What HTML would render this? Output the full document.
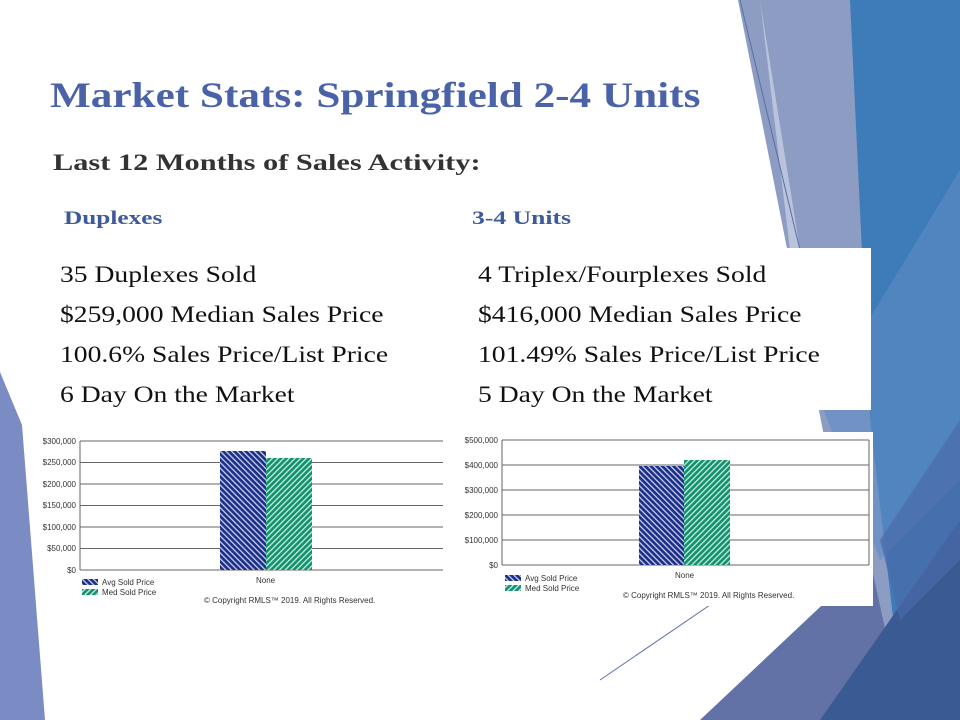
<!DOCTYPE html>
<html><head><meta charset="utf-8"><style>
body{margin:0;width:960px;height:720px;overflow:hidden;background:#fff;position:relative;font-family:"Liberation Serif",serif}
svg{position:absolute;left:0;top:0}
.t{position:absolute;white-space:nowrap;transform-origin:0 0}
</style></head><body>
<svg width="960" height="720">
<defs>
<pattern id="pa" width="4" height="4" patternUnits="userSpaceOnUse" patternTransform="rotate(-45)">
<rect width="4" height="4" fill="#1c2f86"/><rect width="1.3" height="4" fill="#c8d0ee"/></pattern>
<pattern id="pm" width="4" height="4" patternUnits="userSpaceOnUse" patternTransform="rotate(45)">
<rect width="4" height="4" fill="#129170"/><rect width="1.3" height="4" fill="#c8eedd"/></pattern>
</defs>
<polygon points="738,0 960,0 960,720 880,720" fill="#8d9cc2"/>
<polygon points="850,0 960,0 960,720 905,720 870,420" fill="#3d7cb9"/>
<polygon points="760,0 790,250 800,250" fill="#b9c3dc"/>
<polygon points="820,400 960,170 960,480 880,560" fill="#5f8cc4" opacity="0.6"/>
<polygon points="700,720 870,560 905,720" fill="#6272a6"/>
<polygon points="820,720 960,520 960,720" fill="#3a5a93"/>
<polygon points="880,540 960,420 960,560 900,620" fill="#4a6aa8" opacity="0.7"/>
<line x1="740" y1="0" x2="800" y2="250" stroke="#5a6ea8" stroke-width="1"/>
<line x1="600" y1="680" x2="710" y2="605" stroke="#5a6ea8" stroke-width="1"/>
<polygon points="0,372 22,425 45,720 0,720" fill="#7a8cc3"/>
<rect x="470" y="248" width="401" height="162" fill="#fff"/>
<rect x="455" y="432" width="418" height="174" fill="#fff"/>
<g stroke="#666" stroke-width="1">
<line x1="80" y1="441" x2="443" y2="441"/><line x1="80" y1="462.5" x2="443" y2="462.5"/>
<line x1="80" y1="484" x2="443" y2="484"/><line x1="80" y1="505.5" x2="443" y2="505.5"/>
<line x1="80" y1="527" x2="443" y2="527"/><line x1="80" y1="548.5" x2="443" y2="548.5"/>
<line x1="80" y1="570" x2="443" y2="570"/><line x1="80" y1="441" x2="80" y2="570"/>
</g>
<rect x="220" y="451" width="46" height="119" fill="url(#pa)"/>
<rect x="266" y="458" width="46" height="112" fill="url(#pm)"/>
<rect x="82" y="579" width="16" height="6" fill="url(#pa)"/>
<rect x="82" y="589" width="16" height="6" fill="url(#pm)"/>
<g font-family="Liberation Sans" font-size="8" fill="#333" text-anchor="end">
<text x="76" y="444">$300,000</text><text x="76" y="465">$250,000</text><text x="76" y="487">$200,000</text>
<text x="76" y="508">$150,000</text><text x="76" y="530">$100,000</text><text x="76" y="551">$50,000</text><text x="76" y="573">$0</text>
</g>
<g font-family="Liberation Sans" font-size="8" fill="#333">
<text x="102" y="585">Avg Sold Price</text><text x="102" y="595">Med Sold Price</text>
<text x="256" y="583">None</text><text x="204" y="603">© Copyright RMLS™ 2019.  All Rights Reserved.</text>
</g>
<g stroke="#666" stroke-width="1">
<line x1="502" y1="440" x2="869" y2="440"/><line x1="502" y1="465" x2="869" y2="465"/>
<line x1="502" y1="490" x2="869" y2="490"/><line x1="502" y1="515" x2="869" y2="515"/>
<line x1="502" y1="540" x2="869" y2="540"/><line x1="502" y1="565" x2="869" y2="565"/>
<line x1="502" y1="440" x2="502" y2="565"/><line x1="869" y1="440" x2="869" y2="565"/>
</g>
<rect x="639" y="466" width="45" height="99" fill="url(#pa)"/>
<rect x="684" y="460" width="46" height="105" fill="url(#pm)"/>
<rect x="505" y="575" width="16" height="6" fill="url(#pa)"/>
<rect x="505" y="585" width="16" height="6" fill="url(#pm)"/>
<g font-family="Liberation Sans" font-size="8" fill="#333" text-anchor="end">
<text x="498" y="443">$500,000</text><text x="498" y="468">$400,000</text><text x="498" y="493">$300,000</text>
<text x="498" y="518">$200,000</text><text x="498" y="543">$100,000</text><text x="498" y="568">$0</text>
</g>
<g font-family="Liberation Sans" font-size="8" fill="#333">
<text x="525" y="581">Avg Sold Price</text><text x="525" y="591">Med Sold Price</text>
<text x="675" y="578">None</text><text x="623" y="598">© Copyright RMLS™ 2019.  All Rights Reserved.</text>
</g>
</svg>
<div class="t" style="left:50px;top:74px;font-size:36px;font-weight:bold;color:#4a62a8;transform:scaleX(1.2)">Market Stats: Springfield 2-4 Units</div>
<div class="t" style="left:53px;top:150px;font-size:23px;font-weight:bold;color:#333;transform:scaleX(1.32)">Last 12 Months of Sales Activity:</div>
<div class="t" style="left:64px;top:208px;font-size:19px;font-weight:bold;color:#3d5a9c;transform:scaleX(1.33)">Duplexes</div>
<div class="t" style="left:472px;top:208px;font-size:19px;font-weight:bold;color:#3d5a9c;transform:scaleX(1.35)">3-4 Units</div>
<div class="t" style="left:60px;top:255px;font-size:23px;line-height:40px;color:#111;transform:scaleX(1.2)">35 Duplexes Sold<br>$259,000 Median Sales Price<br>100.6% Sales Price/List Price<br>6 Day On the Market</div>
<div class="t" style="left:478px;top:255px;font-size:23px;line-height:40px;color:#111;transform:scaleX(1.2)">4 Triplex/Fourplexes Sold<br>$416,000 Median Sales Price<br>101.49% Sales Price/List Price<br>5 Day On the Market</div>
</body></html>
